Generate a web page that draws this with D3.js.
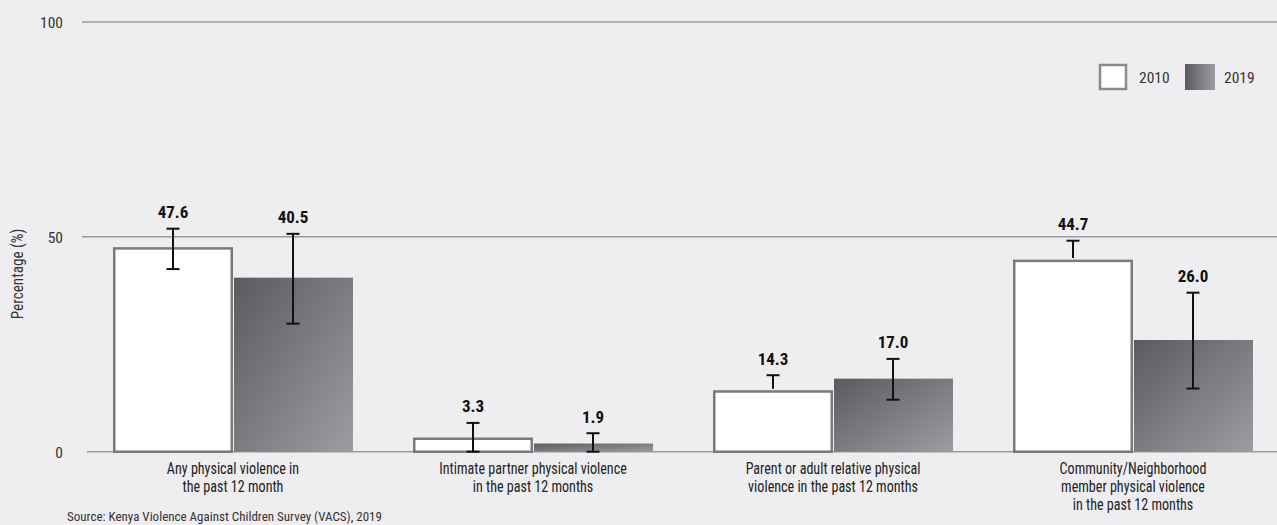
<!DOCTYPE html>
<html><head><meta charset="utf-8">
<script src="https://cdn.jsdelivr.net/npm/d3@7"></script>
<style>
html,body{margin:0;padding:0;background:#eeeef0;}
svg{display:block;}
text{font-family:"Liberation Sans Narrow","Roboto Condensed","DejaVu Sans Condensed",sans-serif;}
</style></head><body>
<svg id="chart" width="1277" height="525"></svg>
<script>
const categories = [
  ["Any physical violence in","the past 12 month"],
  ["Intimate partner physical violence","in the past 12 months"],
  ["Parent or adult relative physical","violence in the past 12 months"],
  ["Community/Neighborhood","member physical violence","in the past 12 months"]
];
const seriesNames = ["2010","2019"];
const values2010 = [47.6, 3.3, 14.3, 44.7];
const values2019 = [40.5, 1.9, 17.0, 26.0];
const upper2010 = [51.9, 6.7, 17.8, 49.1];
const lower2010 = [42.5, 0.0, null, null];
const upper2019 = [50.7, 4.3, 21.6, 37.0];
const lower2019 = [29.8, 0.0, 12.1, 14.7];
const yTicks = [0, 50, 100];
const yLabel = "Percentage (%)";
const source = "Source: Kenya Violence Against Children Survey (VACS), 2019";

const svg = d3.select("#chart");
const W = 1277, H = 525;
svg.append("rect").attr("width",W).attr("height",H).attr("fill","#eeeef0");

const defs = svg.append("defs");
const g1 = defs.append("linearGradient").attr("id","barGrad").attr("x1","0").attr("y1","0").attr("x2","1").attr("y2","1");
g1.append("stop").attr("offset","0%").attr("stop-color","#5a5b5e");
g1.append("stop").attr("offset","100%").attr("stop-color","#9c9da0");
const g2 = defs.append("linearGradient").attr("id","legGrad").attr("x1","0").attr("y1","0").attr("x2","1").attr("y2","0");
g2.append("stop").attr("offset","0%").attr("stop-color","#5a5b5e");
g2.append("stop").attr("offset","100%").attr("stop-color","#9c9da0");

const y = d3.scaleLinear().domain([0,100]).range([451.7,22]);
const x = d3.scaleBand().domain(d3.range(categories.length)).range([83,1283]).paddingInner(0.2).paddingOuter(0.1);
const xs = d3.scaleBand().domain(seriesNames).range([0,x.bandwidth()]);

// gridlines
const yAxis = d3.axisLeft(y).tickValues(yTicks).tickSize(0).tickPadding(0);
const grid = svg.append("g");
grid.selectAll("line").data(yTicks).join("line")
  .attr("x1",d=>d===0?87:82).attr("x2",W)
  .attr("y1",d=>y(d)).attr("y2",d=>y(d))
  .attr("stroke","#9a9a9c").attr("stroke-width",1.5);
const ya = svg.append("g").attr("transform","translate(63,0)").call(yAxis);
ya.select(".domain").remove();
ya.selectAll("text").attr("font-size",15.5).attr("fill","#333").attr("dy","0.35em");

svg.append("text").attr("transform","translate(23,274) rotate(-90) scale(0.95,1)")
  .attr("text-anchor","middle").attr("font-size",16).attr("fill","#333").text(yLabel);

const rows = categories.map((c,i)=>({i,
  s:[{k:"2010",v:values2010[i],hi:upper2010[i],lo:lower2010[i]},
     {k:"2019",v:values2019[i],hi:upper2019[i],lo:lower2019[i]}]}));

const groups = svg.append("g").selectAll("g").data(rows).join("g")
  .attr("transform",d=>`translate(${x(d.i)},0)`);

// bars
groups.selectAll("rect.bar").data(d=>d.s).join("rect").attr("class","bar")
  .attr("x",d=>xs(d.k)+(d.k==="2010"?1.25:1))
  .attr("width",d=>xs.bandwidth()-(d.k==="2010"?2.5:1))
  .attr("y",d=>y(d.v)+(d.k==="2010"?1.25:0))
  .attr("height",d=>y(0)-y(d.v)-(d.k==="2010"?1.25:0))
  .attr("fill",d=>d.k==="2010"?"#ffffff":"url(#barGrad)")
  .attr("stroke",d=>d.k==="2010"?"#7a7a7c":"none")
  .attr("stroke-width",2.5);

// error bars
const capW = 13;
groups.selectAll("g.err").data(d=>d.s).join("g").attr("class","err").each(function(d){
  const g = d3.select(this);
  const cx = xs(d.k)+xs.bandwidth()/2;
  const lo = d.lo===null ? d.v : d.lo;
  g.append("line").attr("x1",cx).attr("x2",cx).attr("y1",y(d.hi)).attr("y2",y(lo)+(d.lo===null?-1.5:0))
    .attr("stroke","#111").attr("stroke-width",2);
  g.append("line").attr("x1",cx-capW/2).attr("x2",cx+capW/2).attr("y1",y(d.hi)).attr("y2",y(d.hi))
    .attr("stroke","#111").attr("stroke-width",2);
  if(d.lo!==null){
    g.append("line").attr("x1",cx-capW/2).attr("x2",cx+capW/2).attr("y1",y(d.lo)).attr("y2",y(d.lo))
      .attr("stroke","#111").attr("stroke-width",2);
  }
  g.append("text").attr("x",cx).attr("y",y(d.hi)-10.5).attr("text-anchor","middle")
    .attr("font-size",17).attr("font-weight","bold").attr("fill","#111").text(d.v.toFixed(1));
});

// x labels
const xl = svg.append("g").selectAll("g").data(categories).join("g")
  .attr("transform",(d,i)=>`translate(${x(i)+x.bandwidth()/2},474) scale(0.88,1)`);
xl.selectAll("text").data(d=>d).join("text")
  .attr("x",0).attr("y",(d,i)=>i*18)
  .attr("text-anchor","middle").attr("font-size",16).attr("fill","#222").text(d=>d);

// legend
const leg = svg.append("g");
leg.append("rect").attr("x",1100).attr("y",65).attr("width",26).attr("height",24)
  .attr("fill","#fff").attr("stroke","#8a8a8c").attr("stroke-width",2.5);
leg.append("text").attr("x",1139).attr("y",83).attr("font-size",15.5).attr("fill","#333").text(seriesNames[0]);
leg.append("rect").attr("x",1185).attr("y",64).attr("width",30).attr("height",26).attr("fill","url(#legGrad)");
leg.append("text").attr("x",1224).attr("y",83).attr("font-size",15.5).attr("fill","#333").text(seriesNames[1]);

// source
svg.append("text").attr("x",67).attr("y",521).attr("font-size",13).attr("fill","#333").text(source);
</script></body></html>
